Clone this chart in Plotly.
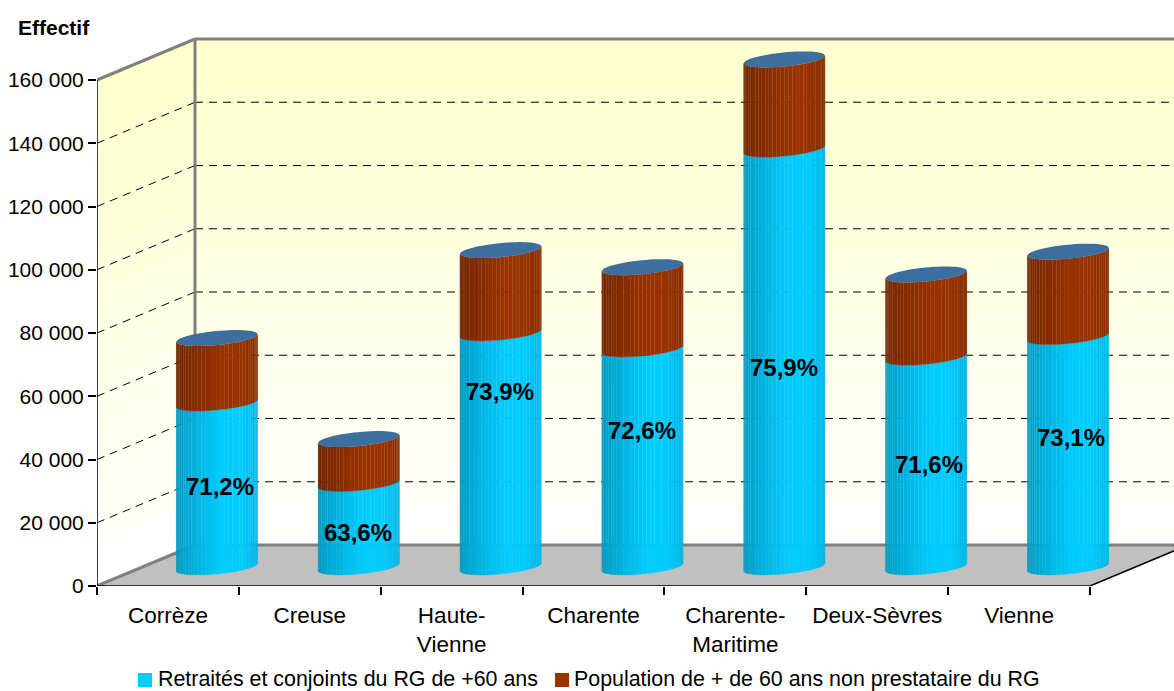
import numpy as np
import plotly.graph_objects as go

categories = ["Corrèze", "Creuse", "Haute-<br>Vienne", "Charente", "Charente-<br>Maritime", "Deux-Sèvres", "Vienne"]
retraites = [51860, 26420, 74030, 68960, 132160, 66360, 72860]
non_prestataires = [20540, 14030, 26170, 25840, 28340, 26140, 26840]
percent_labels = ["71,2%", "63,6%", "73,9%", "72,6%", "75,9%", "71,6%", "73,1%"]
label_x = [0.867, 1.84, 2.841, 3.842, 4.843, 5.865, 6.866]
label_y = [30700, 16100, 60700, 48400, 68300, 37600, 46200]
y_ticks = [0, 20000, 40000, 60000, 80000, 100000, 120000, 140000, 160000]
y_labels = ["0", "20 000", "40 000", "60 000", "80 000", "100 000", "120 000", "140 000", "160 000"]
series_names = ["Retraités et conjoints du RG de +60 ans", "Population de + de 60 ans non prestataire du RG"]

W, H = 1174, 691
ML, MB = 97, 105
FONT = "Liberation Sans, Arial, sans-serif"
PX_X = (1090 - 97) / 7            # px per category
PX_Y = (585 - 79) / 160000        # px per unit
DX = 98 / PX_X                    # wall depth
DY = 41 / PX_Y
BASE = 19 / PX_Y                  # floor offset of cylinders
U, V, YV = 35.6 / PX_X, 19.4 / PX_X, 8 / PX_Y
N = 32
TH0 = np.arctan2(V, U)
thetas = np.linspace(TH0 + np.pi, TH0 + 2 * np.pi, N + 1)

BLUE = np.array([0, 204, 255])
BROWN = np.array([153, 51, 0])


def shade(base, t):
    f = np.interp(t, [0, 0.1, 0.55, 0.8, 1], [0.76, 0.82, 1.0, 1.0, 0.90])
    return "rgb(%d,%d,%d)" % tuple(base * f)


def mix(a, b, t):
    a, b = np.array(a), np.array(b)
    return "rgb(%d,%d,%d)" % tuple(a + (b - a) * t)


shapes = []
BANDS = 60
for k in range(BANDS):
    v1, v2 = 160000 * k / BANDS, 160000 * (k + 1) / BANDS
    col = mix((255, 255, 255), (255, 255, 204), (k + 0.5) / BANDS)
    common = dict(type="path", layer="below", fillcolor=col, line=dict(color=col, width=1))
    shapes.append(dict(path=f"M {DX} {v1 + DY} L 9 {v1 + DY} L 9 {v2 + DY} L {DX} {v2 + DY} Z", **common))
    shapes.append(dict(path=f"M 0 {v1} L {DX} {v1 + DY} L {DX} {v2 + DY} L 0 {v2} Z", **common))

# floor
shapes.append(dict(type="path", layer="below", fillcolor="#C0C0C0", line=dict(width=0),
                   path=f"M 0 0 L 7 0 L {7 + DX} {DY} L {DX} {DY} Z"))
# grid lines
for v in y_ticks[1:-1]:
    dash = dict(color="#000000", width=1, dash="8px,6px")
    shapes.append(dict(type="line", layer="below", x0=DX, x1=9, y0=v + DY, y1=v + DY, line=dash))
    shapes.append(dict(type="line", layer="below", x0=0, x1=DX, y0=v, y1=v + DY, line=dash))
# wall edges
grey = dict(color="#808080", width=3)
shapes += [
    dict(type="line", layer="below", x0=DX, x1=DX, y0=DY, y1=160000 + DY, line=grey),
    dict(type="line", layer="below", x0=DX, x1=9, y0=160000 + DY, y1=160000 + DY, line=grey),
    dict(type="line", layer="below", x0=0, x1=DX, y0=160000, y1=160000 + DY, line=grey),
    dict(type="line", layer="below", x0=0, x1=DX, y0=0, y1=DY, line=grey),
    dict(type="line", layer="below", x0=DX, x1=9, y0=DY, y1=DY, line=grey),
]

fig = go.Figure()

# front axis lines
fig.add_trace(go.Scatter(x=[0, 0, None, 0, 7, 7 + DX], y=[160000, 0, None, 0, 0, DY], mode="lines",
                         line=dict(color="#000000", width=1.5), cliponaxis=False, hoverinfo="skip"))

centers = [i + 0.5 + DX / 2 for i in range(len(categories))]
lower = [np.zeros(len(retraites)), np.array(retraites, float)]
upper = [np.array(retraites, float), np.array(retraites, float) + np.array(non_prestataires, float)]
for base_col, lo, hi in zip((BLUE, BROWN), lower, upper):
    for j in range(N):
        a, b = thetas[j], thetas[j + 1]
        xs, ys = [], []
        for c, l, h in zip(centers, lo, hi):
            xa, xb = c + U * np.cos(a) + V * np.sin(a), c + U * np.cos(b) + V * np.sin(b)
            ya, yb = BASE + YV * np.sin(a), BASE + YV * np.sin(b)
            xs += [xa, xb, xb, xa, xa, None]
            ys += [ya + l, yb + l, yb + h, ya + h, ya + l, None]
        half = np.sqrt(U ** 2 + V ** 2)
        t = ((U * np.cos((a + b) / 2) + V * np.sin((a + b) / 2)) + half) / (2 * half)
        col = shade(base_col, t)
        fig.add_trace(go.Scatter(x=xs, y=ys, mode="lines", line=dict(color=col, width=0.3),
                                 fill="toself", fillcolor=col, hoverinfo="skip"))

# top ellipses
phi = np.linspace(0, 2 * np.pi, 61)
ex, ey = [], []
for c, h in zip(centers, upper[1]):
    ex += list(c + U * np.cos(phi) + V * np.sin(phi)) + [None]
    ey += list(BASE + h + YV * np.sin(phi)) + [None]
fig.add_trace(go.Scatter(x=ex, y=ey, mode="none", fill="toself", fillcolor="#3C6E9E", hoverinfo="skip"))

# percentages
fig.add_trace(go.Scatter(x=label_x, y=label_y, mode="text", text=["<b>%s</b>" % s for s in percent_labels],
                         textfont=dict(family=FONT, size=24, color="#000000"), textposition="middle center",
                         cliponaxis=False, hoverinfo="skip"))

PLOT_W, PLOT_H = W - ML, H - MB


def px(x):
    return (x - ML) / PLOT_W


def py(y):
    return (PLOT_H - y) / PLOT_H


annotations = [
    dict(text="<b>Effectif</b>", xref="paper", yref="paper", x=px(16), y=py(27), xanchor="left", yanchor="middle",
         showarrow=False, font=dict(family=FONT, size=21, color="#000000")),
    dict(text=series_names[0], xref="paper", yref="paper", x=px(156), y=py(679.5), xanchor="left", yanchor="middle",
         showarrow=False, font=dict(family=FONT, size=21.4, color="#000000")),
    dict(text=series_names[1], xref="paper", yref="paper", x=px(572), y=py(679.5), xanchor="left", yanchor="middle",
         showarrow=False, font=dict(family=FONT, size=21.4, color="#000000")),
]
shapes += [
    dict(type="rect", xref="paper", yref="paper", x0=px(138), x1=px(152), y0=py(687), y1=py(673),
         fillcolor="#00CCFF", line=dict(width=0)),
    dict(type="rect", xref="paper", yref="paper", x0=px(555), x1=px(569), y0=py(687), y1=py(673),
         fillcolor="#993300", line=dict(width=0)),
]

fig.update_layout(
    width=W, height=H, margin=dict(l=ML, r=0, t=0, b=MB, pad=0), autosize=False,
    paper_bgcolor="#FFFFFF", plot_bgcolor="#FFFFFF", showlegend=False,
    font=dict(family=FONT, color="#000000"), shapes=shapes, annotations=annotations,
    xaxis=dict(range=[0, PLOT_W / PX_X], tickmode="array", tickvals=[i + 0.5 for i in range(len(categories))],
               ticktext=categories, ticks="", showgrid=False, zeroline=False, showline=False,
               tickfont=dict(family=FONT, size=22.5), ticklabelstandoff=13, tickangle=0,
               minor=dict(tickmode="array", tickvals=list(range(8)), ticks="outside", ticklen=8, tickwidth=1.5,
                          tickcolor="#000000", showgrid=False)),
    yaxis=dict(range=[0, PLOT_H / PX_Y], tickmode="array", tickvals=y_ticks, ticktext=y_labels, ticks="outside",
               ticklen=8, tickwidth=1.5, tickcolor="#000000", showgrid=False, zeroline=False, showline=False,
               tickfont=dict(family=FONT, size=21)),
)

fig.write_html("out.html", config=dict(displayModeBar=False), post_script="document.body.style.margin='0';")
